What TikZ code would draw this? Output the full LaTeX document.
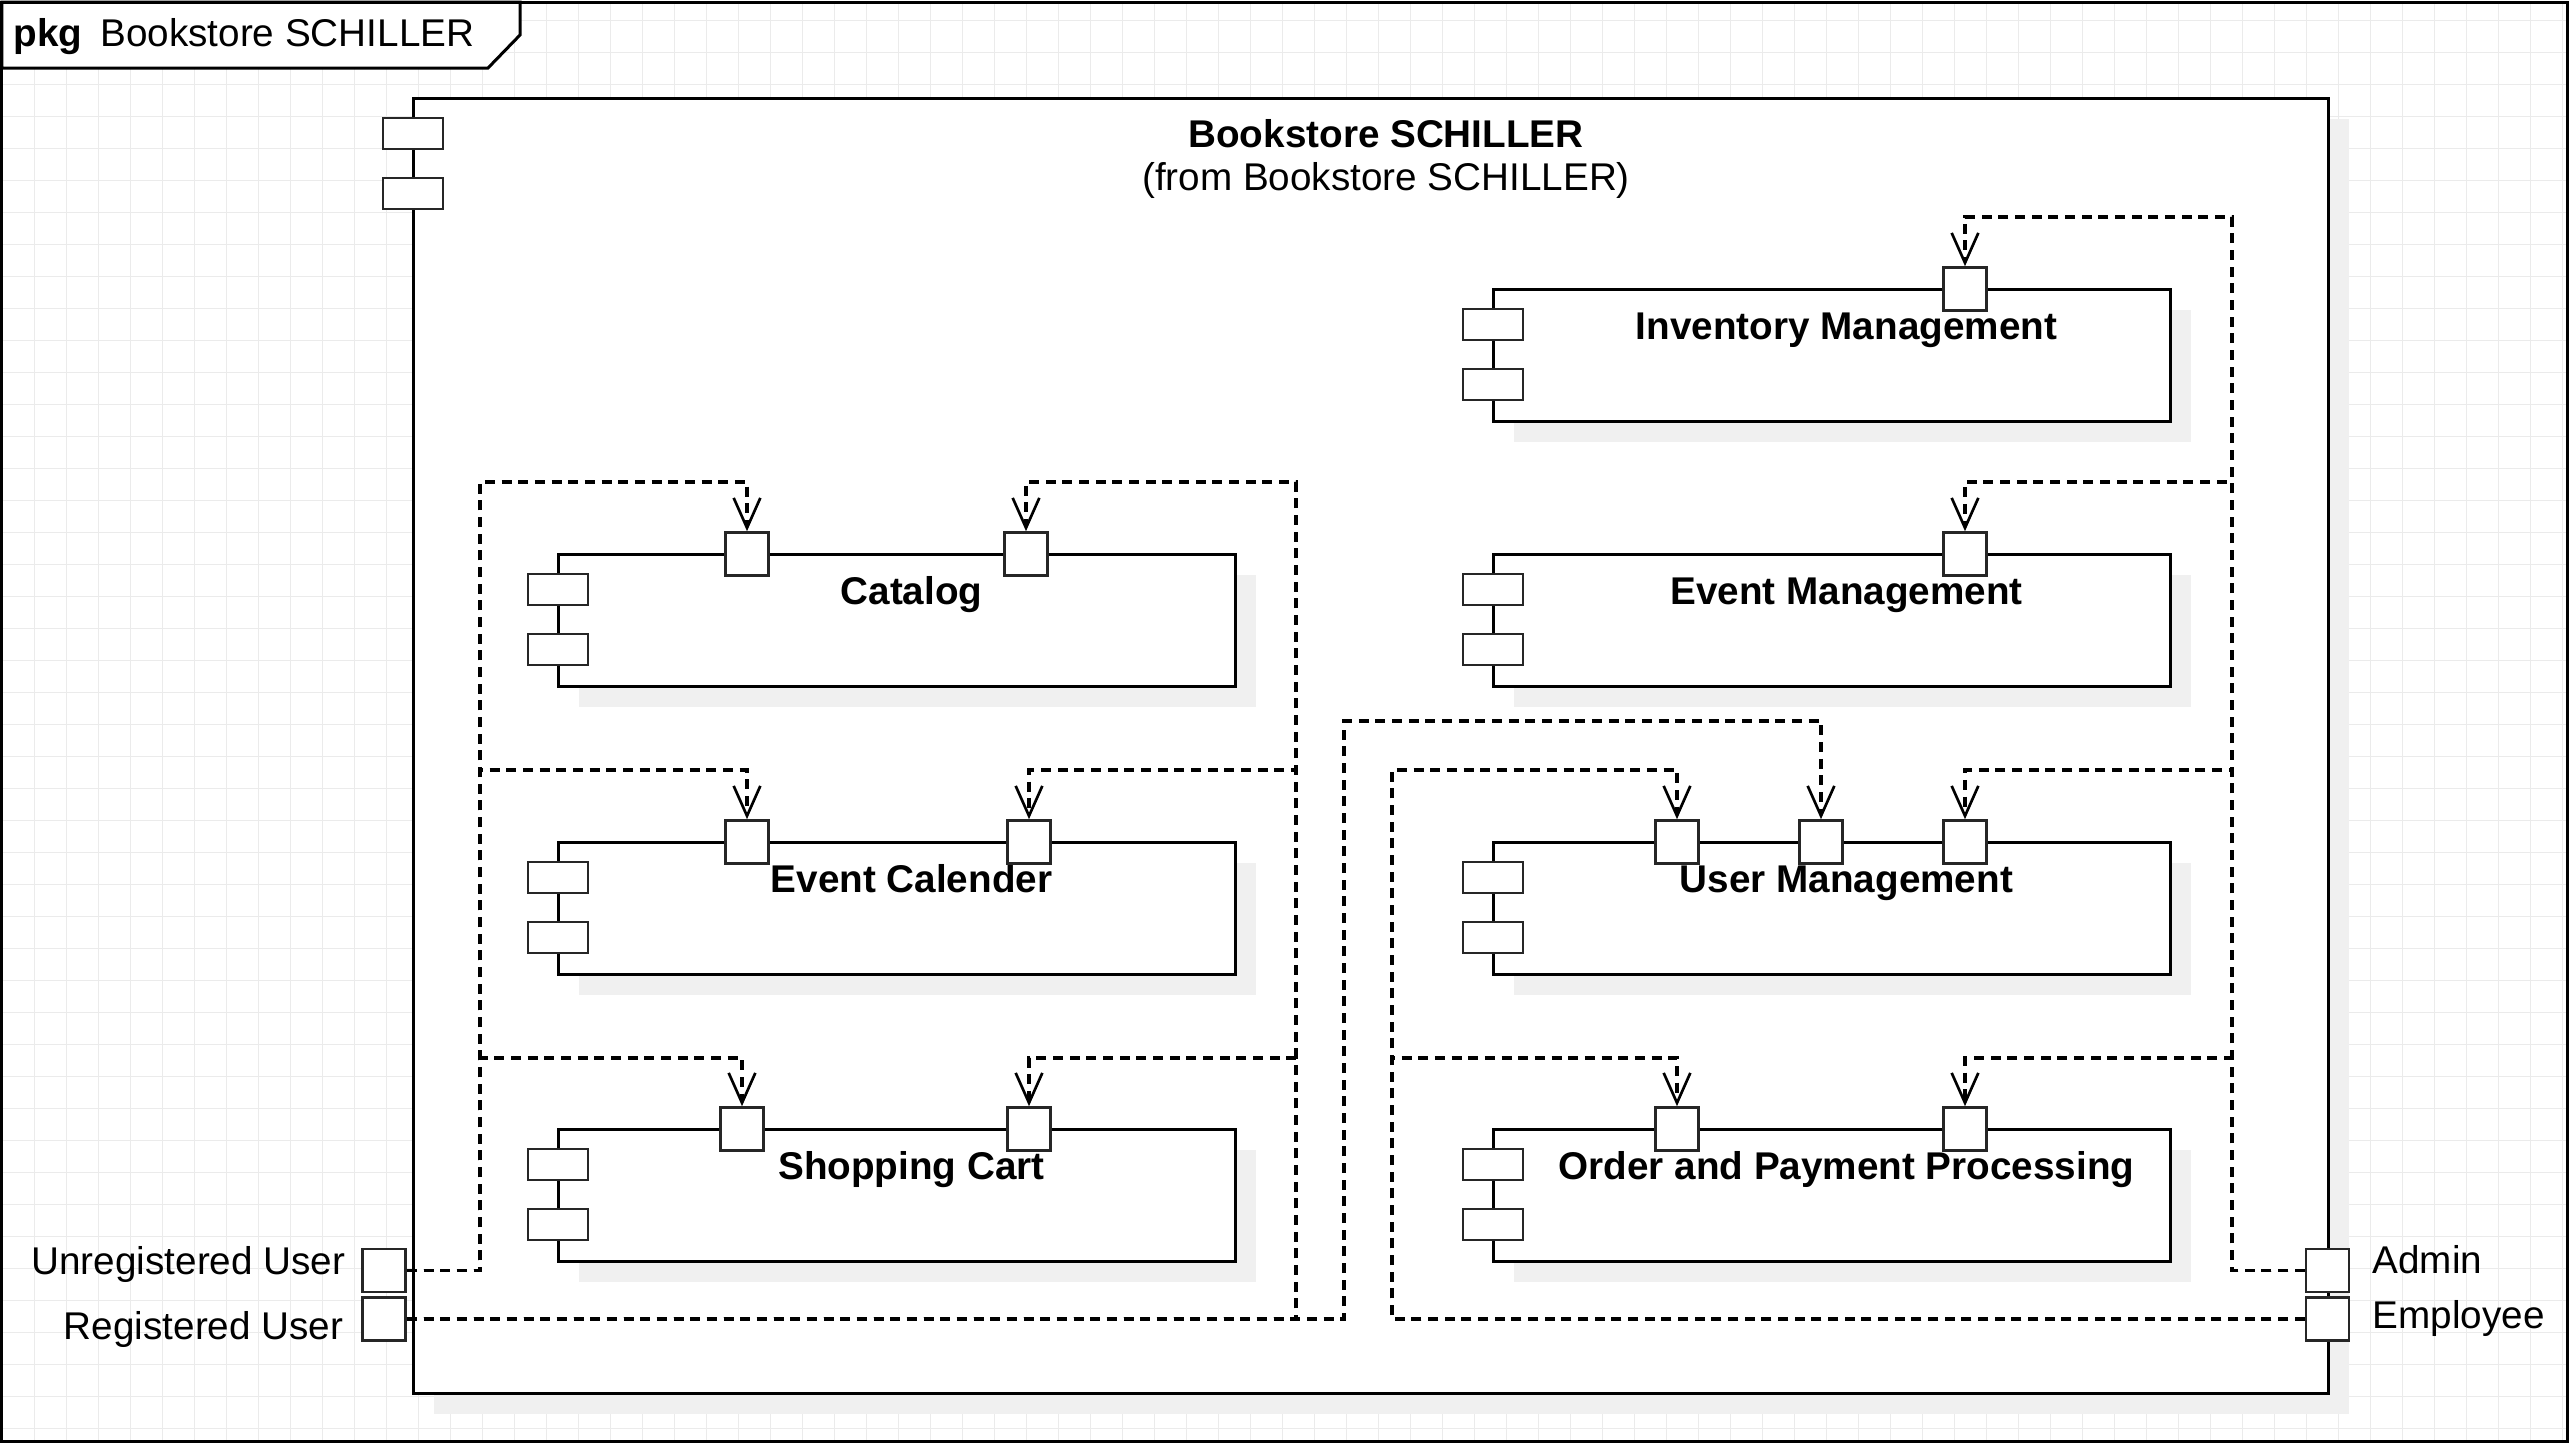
\documentclass[tikz,border=0pt]{standalone}
\usepackage{fontspec}
\setmainfont{Liberation Sans}
\usetikzlibrary{arrows.meta,shadows}

\tikzset{
  gridline/.style={draw=black!8, line width=0.3pt},
  frameline/.style={line width=0.9pt},
  boxshadow/.style={drop shadow={shadow xshift=6.3pt, shadow yshift=-6.3pt, fill=black!6, draw=none, opacity=1}},
  comp/.style={draw, fill=white, line width=0.9pt, inner sep=0pt, outer sep=0pt, anchor=north west,
    minimum width=203.1pt, minimum height=39.6pt, boxshadow},
  sysbox/.style={comp, minimum width=574.5pt, minimum height=388.5pt},
  comptitle/.style={anchor=base, font=\bfseries, inner sep=0pt},
  icon/.style={draw=black!85, fill=white, line width=0.8pt, inner sep=0pt, minimum width=18pt, minimum height=9.3pt},
  port/.style={draw=black!85, fill=white, line width=0.8pt, inner sep=0pt, minimum width=12.9pt, minimum height=12.9pt},
  lbl/.style={inner sep=0pt},
  dep/.style={line width=1pt, dash pattern=on 3pt off 2pt,
    -{Straight Barb[length=9pt,width=8pt,line width=0.8pt]}}
}

\begin{document}
\fontsize{11.6pt}{14pt}\selectfont
\begin{tikzpicture}[x=0.3pt,y=-0.3pt]
\useasboundingbox (0,0) rectangle (2570,1444);
% Background grid
\foreach \gx in {34,66,...,2562} \draw[gridline] (\gx,2) -- (\gx,1441);
\foreach \gy in {20,52,...,1428} \draw[gridline] (2,\gy) -- (2567,\gy);
% Package frame and tab
\draw[frameline, fill=white] (2,2) -- (520,2) -- (520,35) -- (488,68) -- (2,68) -- cycle;
\draw[frameline] (2,2) rectangle (2567,1441);
\node[anchor=base west, lbl] (pkgname) at (13,46) {\textbf{pkg}\hspace{5.4pt}Bookstore SCHILLER};
% Outer component
\node[sysbox] (sys) at (413,98) {};
\node[comptitle] (systitle) at (1386,147) {Bookstore SCHILLER};
\node[anchor=base, lbl] (sysfrom) at (1386,190) {(from Bookstore SCHILLER)};
% Left column
\node[comp] (cat) at (558,554) {};
\node[comptitle] (cat-t) at ([xshift=4.5pt,yshift=-15pt]cat.north) {Catalog};
\node[comp] (ec) at (558,842) {};
\node[comptitle] (ec-t) at ([xshift=4.5pt,yshift=-15pt]ec.north) {Event Calender};
\node[comp] (sc) at (558,1129) {};
\node[comptitle] (sc-t) at ([xshift=4.5pt,yshift=-15pt]sc.north) {Shopping Cart};
% Right column
\node[comp] (inv) at (1493,289) {};
\node[comptitle] (inv-t) at ([xshift=4.5pt,yshift=-15pt]inv.north) {Inventory Management};
\node[comp] (em) at (1493,554) {};
\node[comptitle] (em-t) at ([xshift=4.5pt,yshift=-15pt]em.north) {Event Management};
\node[comp] (um) at (1493,842) {};
\node[comptitle] (um-t) at ([xshift=4.5pt,yshift=-15pt]um.north) {User Management};
\node[comp] (op) at (1493,1129) {};
\node[comptitle] (op-t) at ([xshift=4.5pt,yshift=-15pt]op.north) {Order and Payment Processing};
% Component icons
\foreach \c in {sys,cat,ec,sc,inv,em,um,op} {
  \node[icon] (\c-i1) at ([yshift=-10.65pt]\c.north west) {};
  \node[icon] (\c-i2) at ([yshift=-28.65pt]\c.north west) {};
}
% Provided ports
\node[port] (cat-p1) at (747,554) {};
\node[port] (cat-p2) at (1026,554) {};
\node[port] (ec-p1) at (747,842) {};
\node[port] (ec-p2) at (1029,842) {};
\node[port] (sc-p1) at (742,1129) {};
\node[port] (sc-p2) at (1029,1129) {};
\node[port] (inv-p1) at (1965,289) {};
\node[port] (em-p1) at (1965,554) {};
\node[port] (um-p1) at (1677,842) {};
\node[port] (um-p2) at (1821,842) {};
\node[port] (um-p3) at (1965,842) {};
\node[port] (op-p1) at (1677,1129) {};
\node[port] (op-p2) at (1965,1129) {};
% Actor ports
\node[port] (unreg) at (384,1270.5) {};
\node[port] (reg) at (384,1319) {};
\node[port] (admin) at (2327.5,1270.5) {};
\node[port] (empl) at (2327.5,1319) {};
\draw[frameline] (unreg.east) -- (unreg.east -| sys.west);
\draw[frameline] (reg.east) -- (reg.east -| sys.west);
\node[lbl, anchor=base east] (unreg-l) at (346,1274) {Unregistered User};
\node[lbl, anchor=base east] (reg-l) at (344,1339) {Registered User};
\node[lbl, anchor=base west] (admin-l) at (2372,1273) {Admin};
\node[lbl, anchor=base west] (empl-l) at (2372,1328) {Employee};
% Unregistered User
\draw[dep] (unreg.east) -| (480,482) -| (cat-p1.north);
\draw[dep] (unreg.east) -| (480,770) -| (ec-p1.north);
\draw[dep] (unreg.east) -| (480,1058) -| (sc-p1.north);
% Registered User
\draw[dep] (reg.east) -| (1296,482) -| (cat-p2.north);
\draw[dep] (reg.east) -| (1296,770) -| (ec-p2.north);
\draw[dep] (reg.east) -| (1296,1058) -| (sc-p2.north);
\draw[dep] (reg.east) -| (1344,721) -| (um-p2.north);
% Employee
\draw[dep] (empl.west) -| (1392,770) -| (um-p1.north);
\draw[dep] (empl.west) -| (1392,1058) -| (op-p1.north);
% Admin
\draw[dep] (admin.west) -| (2232,217) -| (inv-p1.north);
\draw[dep] (admin.west) -| (2232,482) -| (em-p1.north);
\draw[dep] (admin.west) -| (2232,770) -| (um-p3.north);
\draw[dep] (admin.west) -| (2232,1058) -| (op-p2.north);
\end{tikzpicture}
\end{document}
